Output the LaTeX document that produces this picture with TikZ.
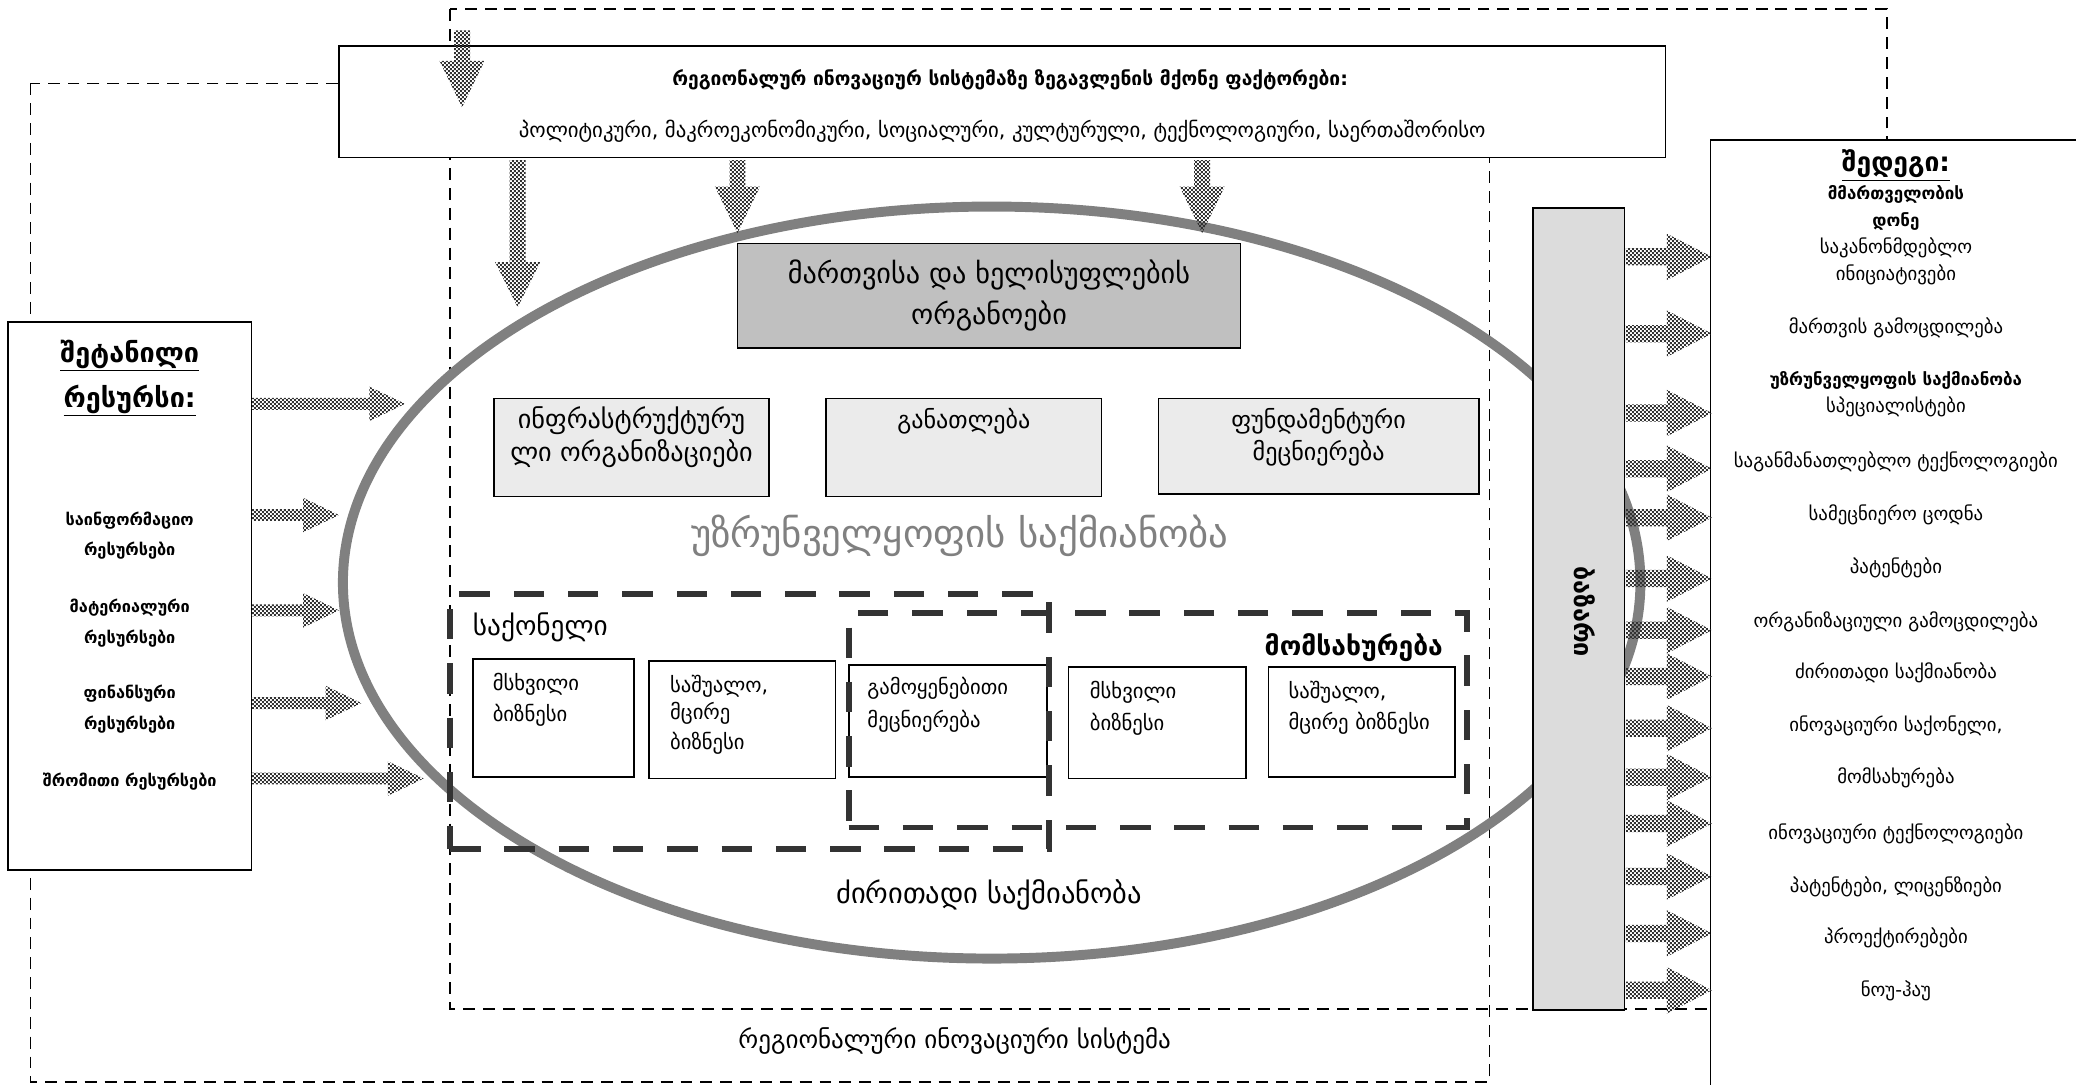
\documentclass[tikz,border=0pt]{standalone}
\usepackage{fontspec}
\setmainfont{DejaVu Sans}
\usetikzlibrary{patterns}
\pgfdeclarepatternformonly{finecheck}{\pgfpointorigin}{\pgfqpoint{3pt}{3pt}}{\pgfqpoint{3pt}{3pt}}{%
  \pgfpathrectangle{\pgfpointorigin}{\pgfqpoint{1.5pt}{1.5pt}}%
  \pgfpathrectangle{\pgfqpoint{1.5pt}{1.5pt}}{\pgfqpoint{1.5pt}{1.5pt}}%
  \pgfusepath{fill}}
\definecolor{ellgray}{HTML}{808080}
\definecolor{govgray}{HTML}{C0C0C0}
\definecolor{lightgray}{HTML}{EBEBEB}
\definecolor{marketgray}{HTML}{DCDCDC}
\definecolor{dashgray}{HTML}{333333}
\newcommand\fsz[1]{\fontsize{#1}{#1}\selectfont}
\newcommand\HArr[6]{\fill[blockpat] (#1,{#3-#4}) -- ({#2-#6},{#3-#4}) -- ({#2-#6},{#3-#5}) -- (#2,#3) -- ({#2-#6},{#3+#5}) -- ({#2-#6},{#3+#4}) -- (#1,{#3+#4}) -- cycle;}
\newcommand\VArr[6]{\fill[blockpat] ({#1-#4},#2) -- ({#1-#4},{#3-#6}) -- ({#1-#5},{#3-#6}) -- (#1,#3) -- ({#1+#5},{#3-#6}) -- ({#1+#4},{#3-#6}) -- ({#1+#4},#2) -- cycle;}
\tikzset{
  box/.style={draw=black, line width=1.3pt, inner sep=0pt},
  wbox/.style={box, fill=white},
  thinDash/.style={draw=black, line width=1.3pt, dash pattern=on 9pt off 6pt},
  thickDash/.style={draw=dashgray, line width=4.5pt, dash pattern=on 23pt off 18pt, inner sep=0pt},
  blockpat/.style={pattern=finecheck, pattern color=black!80},
  txt/.style={inner sep=0pt, text height=0.55em, text depth=0pt},
}
\begin{document}
\begin{tikzpicture}[x=1pt,y=-1pt]
\useasboundingbox (0,0) rectangle (1568,819);
\fill[white] (0,0) rectangle (1568,819);
% dashed system frames
\draw[thinDash] (23,63) rectangle (1125,817);
\draw[thinDash] (340,7) rectangle (1425,762);
% boxes
\node[wbox, minimum width=1002pt, minimum height=84pt] (factors) at (757,77) {};
\node[wbox, minimum width=184pt, minimum height=414pt] (input) at (98,450) {};
\node[wbox, minimum width=280pt, minimum height=734pt] (result) at (1432,473) {};
% ellipse
\draw[ellgray, line width=7.5pt] (749,440) ellipse [x radius=490, y radius=284];
\coordinate (ell) at (749,440);
\node[box, fill=govgray, minimum width=380pt, minimum height=79pt] (gov) at (747,223.5) {};
\node[box, fill=lightgray, minimum width=208pt, minimum height=74pt] (infra) at (477,338) {};
\node[box, fill=lightgray, minimum width=208pt, minimum height=74pt] (edu) at (728,338) {};
\node[box, fill=lightgray, minimum width=242pt, minimum height=72pt] (fund) at (996,337) {};
\node[wbox, minimum width=122pt, minimum height=89pt] (b1) at (418,542.5) {};
\node[wbox, minimum width=141pt, minimum height=89pt] (b2) at (560.5,543.5) {};
\node[wbox, minimum width=150pt, minimum height=85pt] (b3) at (716,544.5) {};
\node[wbox, minimum width=134pt, minimum height=84pt] (b4) at (874,546) {};
\node[wbox, minimum width=141pt, minimum height=83pt] (b5) at (1028.5,545.5) {};
\node[thickDash, minimum width=452pt, minimum height=192pt] (goods) at (566,545) {};
\node[thickDash, minimum width=467pt, minimum height=162pt] (services) at (874.5,544) {};
\node[box, fill=marketgray, minimum width=69pt, minimum height=606pt] (market) at (1192.5,460) {};
% texts: factors
\node[txt, font=\fsz{14.5}\bfseries] (factT) at (763,62) {რეგიონალურ ინოვაციურ სისტემაზე ზეგავლენის მქონე ფაქტორები:};
\node[txt, font=\fsz{15.7}] (factL) at (757,101) {პოლიტიკური, მაკროეკონომიკური, სოციალური, კულტურული, ტექნოლოგიური, საერთაშორისო};
% input
\node[txt, font=\fsz{20.4}\bfseries] (inT1) at (98,271) {\underline{შეტანილი}};
\node[txt, font=\fsz{20.4}\bfseries] (inT2) at (98,305) {\underline{რესურსი:}};
\node[txt, font=\fsz{12.3}\bfseries] (in1a) at (98,394) {საინფორმაციო};
\node[txt, font=\fsz{12.3}\bfseries] (in1b) at (98,417) {რესურსები};
\node[txt, font=\fsz{12.3}\bfseries] (in2a) at (98,460) {მატერიალური};
\node[txt, font=\fsz{12.3}\bfseries] (in2b) at (98,483) {რესურსები};
\node[txt, font=\fsz{12.3}\bfseries] (in3a) at (98,525) {ფინანსური};
\node[txt, font=\fsz{12.3}\bfseries] (in3b) at (98,548) {რესურსები};
\node[txt, font=\fsz{12.3}\bfseries] (in4) at (98,591) {შრომითი რესურსები};
% ellipse contents
\node[txt, font=\fsz{21.3}] (govT1) at (747,211.5) {მართვისა და ხელისუფლების};
\node[txt, font=\fsz{21.3}] (govT2) at (747,242) {ორგანოები};
\node[txt, font=\fsz{19.8}] (infraT1) at (477,321) {ინფრასტრუქტურუ};
\node[txt, font=\fsz{19.8}] (infraT2) at (477,346) {ლი ორგანიზაციები};
\node[txt, font=\fsz{18.2}] (eduT) at (728,321) {განათლება};
\node[txt, font=\fsz{18.2}] (fundT1) at (996,321) {ფუნდამენტური};
\node[txt, font=\fsz{18.2}] (fundT2) at (996,345) {მეცნიერება};
\node[txt, font=\fsz{29.3}, text=ellgray] (support) at (725,411) {უზრუნველყოფის საქმიანობა};
\node[txt, font=\fsz{20.6}, anchor=west] (goodsT) at (357,477) {საქონელი};
\node[txt, font=\fsz{20}\bfseries, anchor=east] (servT) at (1090,492) {მომსახურება};
\node[txt, font=\fsz{15.6}, anchor=west] (b1a) at (372,519) {მსხვილი};
\node[txt, font=\fsz{15.6}, anchor=west] (b1b) at (372,542) {ბიზნესი};
\node[txt, font=\fsz{15.6}, anchor=west] (b2a) at (506,520) {საშუალო,};
\node[txt, font=\fsz{15.6}, anchor=west] (b2b) at (506,541) {მცირე};
\node[txt, font=\fsz{15.6}, anchor=west] (b2c) at (506,563) {ბიზნესი};
\node[txt, font=\fsz{15.6}, anchor=west] (b3a) at (655,522) {გამოყენებითი};
\node[txt, font=\fsz{15.6}, anchor=west] (b3b) at (655,547) {მეცნიერება};
\node[txt, font=\fsz{15.6}, anchor=west] (b4a) at (823,525) {მსხვილი};
\node[txt, font=\fsz{15.6}, anchor=west] (b4b) at (823,549) {ბიზნესი};
\node[txt, font=\fsz{15.6}, anchor=west] (b5a) at (973,525) {საშუალო,};
\node[txt, font=\fsz{15.6}, anchor=west] (b5b) at (973,548) {მცირე ბიზნესი};
\node[txt, font=\fsz{21.5}] (mainT) at (747,680) {ძირითადი საქმიანობა};
\node[txt, font=\fsz{18.9}] (risT) at (721,789) {რეგიონალური ინოვაციური სისტემა};
\node[txt, font=\fsz{19}\bfseries, rotate=-90] (marketT) at (1192,462) {ბაზარი};
% results
\node[txt, font=\fsz{20}\bfseries] (r0) at (1432,127) {\underline{შედეგი:}};
\node[txt, font=\fsz{12.8}\bfseries] (r1) at (1432,148) {მმართველობის};
\node[txt, font=\fsz{12.8}\bfseries] (r2) at (1432,168.5) {დონე};
\node[txt, font=\fsz{14.2}] (r3) at (1432,189) {საკანონმდებლო};
\node[txt, font=\fsz{14.2}] (r4) at (1432,209) {ინიციატივები};
\node[txt, font=\fsz{14.2}] (r5) at (1432,249) {მართვის გამოცდილება};
\node[txt, font=\fsz{12.8}\bfseries] (r6) at (1432,288.5) {უზრუნველყოფის საქმიანობა};
\node[txt, font=\fsz{14.2}] (r7) at (1432,309) {სპეციალისტები};
\node[txt, font=\fsz{14.2}] (r8) at (1432,350) {საგანმანათლებლო ტექნოლოგიები};
\node[txt, font=\fsz{14.2}] (r9) at (1432,390) {სამეცნიერო ცოდნა};
\node[txt, font=\fsz{14.2}] (r10) at (1432,430.5) {პატენტები};
\node[txt, font=\fsz{14.2}] (r11) at (1432,471) {ორგანიზაციული გამოცდილება};
\node[txt, font=\fsz{14.2}] (r12) at (1432,510) {ძირითადი საქმიანობა};
\node[txt, font=\fsz{14.2}] (r13) at (1432,550) {ინოვაციური საქონელი,};
\node[txt, font=\fsz{14.2}] (r14) at (1432,589) {მომსახურება};
\node[txt, font=\fsz{14.2}] (r15) at (1432,631) {ინოვაციური ტექნოლოგიები};
\node[txt, font=\fsz{14.2}] (r16) at (1432,671) {პატენტები, ლიცენზიები};
\node[txt, font=\fsz{14.2}] (r17) at (1432,710) {პროექტირებები};
\node[txt, font=\fsz{14.2}] (r18) at (1432,750) {ნოუ-ჰაუ};
% block arrows: factors
\VArr{349}{23}{81}{6}{17}{35}
\VArr{391}{121}{232}{6}{17}{34}
\VArr{557}{121}{176}{6}{17}{35}
\VArr{908}{121}{176}{6}{17}{35}
% block arrows: inputs
\HArr{190}{306}{305}{4.5}{13}{27}
\HArr{190}{256}{389}{4.5}{13}{27}
\HArr{190}{256}{461}{4.5}{13}{27}
\HArr{190}{273}{531}{4.5}{13}{27}
\HArr{190}{320}{588}{4.5}{13}{27}
% block arrows: market to results
\foreach \yy in {194,252,312,354,391,437,476,511,550,587,622,662,705,748}{
  \HArr{1228}{1293}{\yy}{6.5}{17.5}{34}
}
\end{tikzpicture}
\end{document}
